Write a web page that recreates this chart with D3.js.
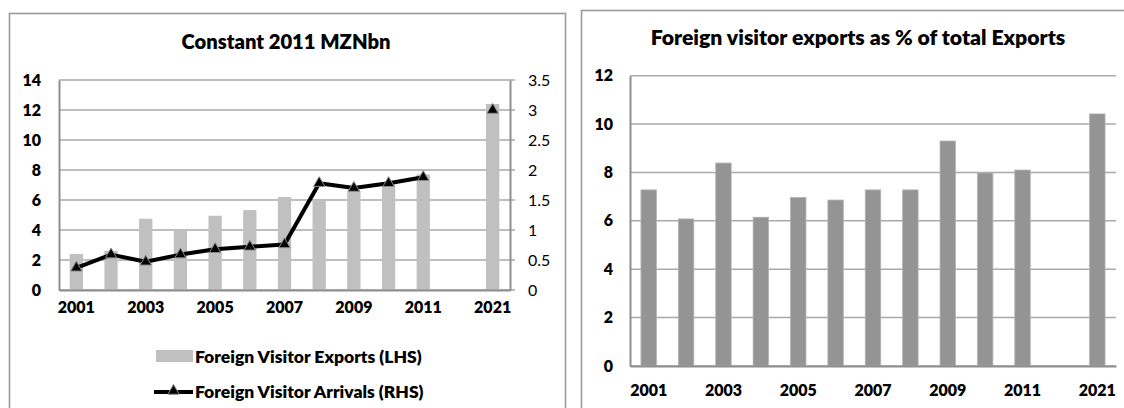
<!DOCTYPE html>
<html>
<head>
<meta charset="utf-8">
<script src="https://cdn.jsdelivr.net/npm/d3@7"></script>
<style>
  html, body { margin: 0; padding: 0; background: #fff; }
  svg { display: block; font-family: Lato, "Open Sans", sans-serif; }
</style>
</head>
<body>
<svg id="chart" width="1124" height="408"></svg>
<script>
// Years on the category axis (one empty slot between 2011 and 2021)
const years = ["2001","2002","2003","2004","2005","2006","2007","2008","2009","2010","2011","","2021"];
const yearLabels = ["2001","","2003","","2005","","2007","","2009","","2011","","2021"];

// Foreign visitor exports, constant 2011 MZN bn (left axis)
const visitorExports = [2.4, 2.6, 4.75, 4.0, 4.95, 5.33, 6.2, 6.0, 6.6, 7.1, 7.7, null, 12.4];
// Foreign visitor arrivals, millions (right axis)
const visitorArrivals = [0.37, 0.59, 0.47, 0.59, 0.68, 0.72, 0.76, 1.78, 1.70, 1.78, 1.88, null, 3.0];
// Foreign visitor exports as % of total exports
const exportShare = [7.28, 6.08, 8.39, 6.15, 6.97, 6.86, 7.28, 7.28, 9.30, 7.98, 8.10, null, 10.42];

const leftTicks = [0, 2, 4, 6, 8, 10, 12, 14];
const rightTicks = [0, 0.5, 1, 1.5, 2, 2.5, 3, 3.5];
const shareTicks = [0, 2, 4, 6, 8, 10, 12];

const svg = d3.select("#chart");
const gridColor = "#a9a9a9";
const axisColor = "#8e8e8e";
const boldW = 800;
const idx = d3.range(years.length);
const fmt = d3.format("~g");

// ---------- panel frames ----------
svg.append("rect").attr("x", 9.5).attr("y", 13.5).attr("width", 556).attr("height", 420)
  .attr("fill", "#fff").attr("stroke", "#9a9a9a").attr("stroke-width", 1.6);
svg.append("rect").attr("x", 581.5).attr("y", 10.5).attr("width", 560).attr("height", 420)
  .attr("fill", "#fff").attr("stroke", "#9a9a9a").attr("stroke-width", 1.6);

// ---------- left chart: exports (bars) and arrivals (line) ----------
{
  const L = 59, R = 510, T = 80, B = 290;
  const x = d3.scaleBand().domain(idx).range([L, R]).paddingInner(0.617).paddingOuter(0.3085);
  const y = d3.scaleLinear().domain([0, 14]).range([B, T]);
  const y2 = d3.scaleLinear().domain([0, 3.5]).range([B, T]);
  const g = svg.append("g");

  g.append("text").attr("x", 286).attr("y", 41.7).attr("dy", "0.35em")
    .attr("text-anchor", "middle").attr("font-weight", boldW).attr("font-size", 20.2)
    .text("Constant 2011 MZNbn");

  // gridlines with outward ticks on the secondary axis
  g.selectAll("line.grid").data(leftTicks).join("line")
    .attr("x1", L).attr("x2", R + 5)
    .attr("y1", d => y(d)).attr("y2", d => y(d))
    .attr("stroke", gridColor).attr("stroke-width", 1.5);

  // left axis labels
  const yAxis = d3.axisLeft(y).tickValues(leftTicks).tickSize(0).tickPadding(18).tickFormat(fmt);
  const ya = g.append("g").attr("transform", `translate(${L},0)`).call(yAxis);
  ya.select(".domain").attr("stroke", axisColor).attr("stroke-width", 2);
  ya.selectAll("text").attr("font-size", 16).attr("font-weight", boldW).attr("fill", "#000")
    .attr("font-family", "Lato, sans-serif");

  // right axis labels
  const y2Axis = d3.axisRight(y2).tickValues(rightTicks).tickSize(0).tickPadding(18).tickFormat(fmt);
  const ya2 = g.append("g").attr("transform", `translate(${R},0)`).call(y2Axis);
  ya2.select(".domain").attr("stroke", axisColor).attr("stroke-width", 2);
  ya2.selectAll("text").attr("font-size", 16).attr("fill", "#000")
    .attr("font-family", "Lato, sans-serif");

  // bars
  g.selectAll("rect.bar").data(idx.filter(i => visitorExports[i] != null)).join("rect")
    .attr("x", i => x(i)).attr("width", x.bandwidth())
    .attr("y", i => y(visitorExports[i])).attr("height", i => B - y(visitorExports[i]))
    .attr("fill", "#c0c0c0");

  // category axis
  const xAxis = d3.axisBottom(x).tickSize(0).tickPadding(12).tickFormat(i => yearLabels[i]);
  const xa = g.append("g").attr("transform", `translate(0,${B})`).call(xAxis);
  xa.select(".domain").attr("stroke", axisColor).attr("stroke-width", 2);
  xa.selectAll("text").attr("font-size", 16).attr("font-weight", boldW).attr("fill", "#000")
    .attr("font-family", "Lato, sans-serif");

  // arrivals line (broken where data is missing)
  const cx = i => x(i) + x.bandwidth() / 2;
  const line = d3.line().defined(i => visitorArrivals[i] != null)
    .x(cx).y(i => y2(visitorArrivals[i]));
  g.append("path").datum(idx).attr("d", line)
    .attr("fill", "none").attr("stroke", "#000").attr("stroke-width", 4).attr("stroke-linejoin", "round");

  const tri = d3.symbol().type(d3.symbolTriangle).size(55);
  g.selectAll("path.mk").data(idx.filter(i => visitorArrivals[i] != null)).join("path")
    .attr("transform", i => `translate(${cx(i)},${y2(visitorArrivals[i])})`)
    .attr("d", tri).attr("fill", "#000").attr("stroke", "#8a8a8a").attr("stroke-width", 1);

  // legend
  const lg = g.append("g");
  lg.append("rect").attr("x", 156).attr("y", 350).attr("width", 37).attr("height", 12).attr("fill", "#c0c0c0");
  lg.append("text").attr("x", 195).attr("y", 357).attr("dy", "0.35em")
    .attr("font-size", 17.5).attr("font-weight", boldW).text("Foreign Visitor Exports (LHS)");
  lg.append("line").attr("x1", 154).attr("x2", 193).attr("y1", 392).attr("y2", 392)
    .attr("stroke", "#000").attr("stroke-width", 4);
  lg.append("path").attr("transform", "translate(173.5,391)").attr("d", tri)
    .attr("fill", "#000").attr("stroke", "#8a8a8a").attr("stroke-width", 1);
  lg.append("text").attr("x", 195).attr("y", 392).attr("dy", "0.35em")
    .attr("font-size", 17.5).attr("font-weight", boldW).text("Foreign Visitor Arrivals (RHS)");
}

// ---------- right chart: share of total exports ----------
{
  const L = 630, R = 1116, T = 75.7, B = 366;
  const x = d3.scaleBand().domain(idx).range([L, R]).paddingInner(0.586).paddingOuter(0.293);
  const y = d3.scaleLinear().domain([0, 12]).range([B, T]);
  const g = svg.append("g");

  g.append("text").attr("x", 858).attr("y", 38).attr("dy", "0.35em")
    .attr("text-anchor", "middle").attr("font-weight", boldW).attr("font-size", 21.2)
    .text("Foreign visitor exports as % of total Exports");

  g.selectAll("line.grid").data(shareTicks).join("line")
    .attr("x1", L).attr("x2", R)
    .attr("y1", d => y(d)).attr("y2", d => y(d))
    .attr("stroke", gridColor).attr("stroke-width", 1.5);

  const yAxis = d3.axisLeft(y).tickValues(shareTicks).tickSize(0).tickPadding(17).tickFormat(fmt);
  const ya = g.append("g").attr("transform", `translate(${L},0)`).call(yAxis);
  ya.select(".domain").attr("stroke", axisColor).attr("stroke-width", 2);
  ya.selectAll("text").attr("font-size", 16).attr("font-weight", boldW).attr("fill", "#000")
    .attr("font-family", "Lato, sans-serif");

  g.selectAll("rect.bar").data(idx.filter(i => exportShare[i] != null)).join("rect")
    .attr("x", i => x(i)).attr("width", x.bandwidth())
    .attr("y", i => y(exportShare[i])).attr("height", i => B - y(exportShare[i]))
    .attr("fill", "#949494").attr("stroke", "#b4b4b4").attr("stroke-width", 0.8);

  const xAxis = d3.axisBottom(x).tickSize(0).tickPadding(19).tickFormat(i => yearLabels[i]);
  const xa = g.append("g").attr("transform", `translate(0,${B})`).call(xAxis);
  xa.select(".domain").attr("stroke", axisColor).attr("stroke-width", 2);
  xa.selectAll("text").attr("font-size", 16).attr("font-weight", boldW).attr("fill", "#000")
    .attr("font-family", "Lato, sans-serif");
}
</script>
</body>
</html>
